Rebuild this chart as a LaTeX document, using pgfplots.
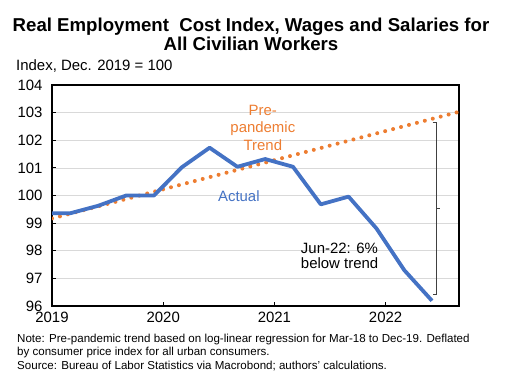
\documentclass[border=0pt]{standalone}
\usepackage{pgfplots}
\pgfplotsset{compat=1.18}
\usepackage{fontspec}
\setmainfont{Liberation Sans}
\definecolor{xlblue}{HTML}{4472C4}
\definecolor{xlorange}{HTML}{ED7D31}
\begin{document}
\begin{tikzpicture}[x=1bp,y=1bp]
\path[use as bounding box] (0,0) rectangle (506,384);
\node[anchor=base, inner sep=0, font=\bfseries\fontsize{18.7}{20}\selectfont] at (251,352.3) {Real Employment\ \ Cost Index, Wages and Salaries for};
\node[anchor=base, inner sep=0, font=\bfseries\fontsize{18.7}{20}\selectfont] at (251,334) {All Civilian Workers};
\node[anchor=base west, inner sep=0, font=\fontsize{15}{15}\selectfont] at (16,314) {Index, Dec. 2019 = 100};
\begin{axis}[
  at={(52bp,78bp)}, anchor=south west,
  scale only axis, width=407bp, height=221bp,
  xmin=2019, xmax=2022.66, ymin=96, ymax=104,
  xtick={2019,2020,2021,2022}, xticklabels={2019,2020,2021,2022},
  ytick={96,97,98,99,100,101,102,103,104},
  yticklabels={96,97,98,99,100,101,102,103,104},
  ticklabel style={font=\fontsize{15}{15}\selectfont},
  yticklabel style={xshift=-6bp},
  xticklabel style={yshift=-3bp},
  ymajorgrids, major grid style={color=black!15, line width=0.6bp},
  axis line style={black, line width=1.2bp},
  tick style={black, line width=0.8bp}, major tick length=4bp,
  tick align=inside, xtick pos=bottom, ytick pos=left,
  clip=true,
]
\addplot[xlorange, line width=4bp, line cap=round, dash pattern=on 0bp off 8.2bp] coordinates {
  (2019.0,99.17) (2022.66,103.03)
};
\addplot[xlblue, line width=3.8bp, line join=round] coordinates {
  (2018.917,99.36) (2019.167,99.36) (2019.417,99.63) (2019.667,100.0) (2019.917,100.0)
  (2020.167,101.02) (2020.417,101.73) (2020.667,101.04) (2020.917,101.32)
  (2021.167,101.04) (2021.417,99.68) (2021.667,99.96) (2021.917,98.81)
  (2022.167,97.30) (2022.417,96.19)
};
\node[anchor=base, inner sep=0, text=xlorange, font=\fontsize{15}{15}\selectfont] at (axis cs:2020.896,102.914) {Pre-};
\node[anchor=base, inner sep=0, text=xlorange, font=\fontsize{15}{15}\selectfont] at (axis cs:2020.896,102.288) {pandemic};
\node[anchor=base, inner sep=0, text=xlorange, font=\fontsize{15}{15}\selectfont] at (axis cs:2020.896,101.647) {Trend};
\node[anchor=base, inner sep=0, text=xlblue, font=\fontsize{15}{15}\selectfont] at (axis cs:2020.68,99.78) {Actual};
\node[anchor=base west, inner sep=0, font=\fontsize{15}{15}\selectfont] at (axis cs:2021.237,97.91) {Jun-22: 6\%};
\node[anchor=base west, inner sep=0, font=\fontsize{15}{15}\selectfont] at (axis cs:2021.237,97.36) {below trend};
\draw[black!75, line width=0.8bp] (axis cs:2022.423,102.64) -- (axis cs:2022.459,102.64) -- (axis cs:2022.459,96.43) -- (axis cs:2022.423,96.43);
\draw[black!75, line width=0.8bp] (axis cs:2022.459,99.54) -- (axis cs:2022.486,99.54);
\end{axis}
\node[anchor=base west, inner sep=0, font=\fontsize{11.6}{13}\selectfont] at (17,41.3) {Note: Pre-pandemic trend based on log-linear regression for Mar-18 to Dec-19. Deflated};
\node[anchor=base west, inner sep=0, font=\fontsize{11.6}{13}\selectfont] at (17,28.7) {by consumer price index for all urban consumers.};
\node[anchor=base west, inner sep=0, font=\fontsize{11.6}{13}\selectfont] at (17,14.7) {Source: Bureau of Labor Statistics via Macrobond; authors' calculations.};
\end{tikzpicture}
\end{document}
